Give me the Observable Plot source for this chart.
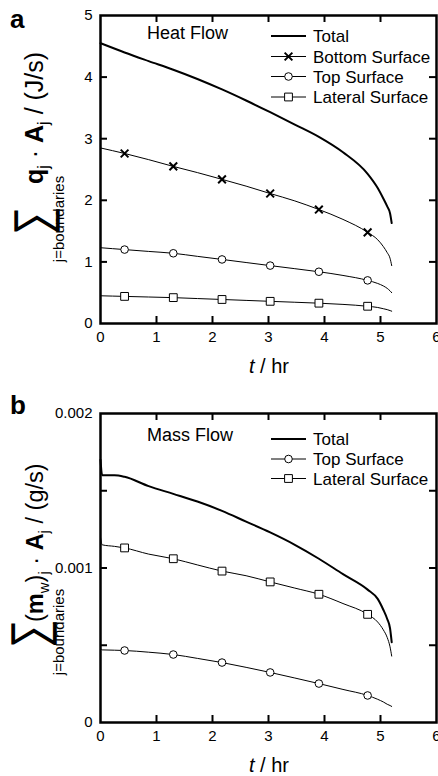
<!DOCTYPE html>
<html><head><meta charset="utf-8">
<script src="https://cdn.jsdelivr.net/npm/d3@7"></script>
<script src="https://cdn.jsdelivr.net/npm/@observablehq/plot@0.6"></script>
<style>
body{margin:0;background:#fff;}
#wrap{position:relative;width:438px;height:776px;overflow:hidden;background:#fff;}
#wrap svg{display:block;}
</style></head><body><div id="wrap"></div>
<script>
const FONT = '"Liberation Sans", Arial, Helvetica, sans-serif';

// ---------- Panel a : Heat Flow (J/s) ----------
const tA = [0, 0.43, 0.86, 1.30, 1.73, 2.17, 2.60, 3.03, 3.47, 3.90, 4.33, 4.77, 4.95, 5.05, 5.12, 5.17, 5.20];
const heatTotal   = [4.55, 4.40, 4.26, 4.12, 3.97, 3.80, 3.62, 3.43, 3.23, 3.03, 2.78, 2.43, 2.20, 2.03, 1.90, 1.79, 1.63];
const heatBottom  = [2.85, 2.76, 2.66, 2.55, 2.45, 2.34, 2.23, 2.11, 1.99, 1.85, 1.69, 1.48, 1.36, 1.25, 1.15, 1.06, 0.94];
const heatTop     = [1.23, 1.20, 1.17, 1.14, 1.09, 1.04, 0.99, 0.94, 0.89, 0.84, 0.78, 0.70, 0.65, 0.61, 0.57, 0.53, 0.50];
const heatLateral = [0.45, 0.44, 0.43, 0.42, 0.405, 0.39, 0.375, 0.36, 0.345, 0.33, 0.31, 0.28, 0.26, 0.24, 0.225, 0.21, 0.20];

// ---------- Panel b : Mass Flow (g/s) ----------
const tB = [0, 0.03, 0.25, 0.43, 0.86, 1.30, 1.73, 2.17, 2.60, 3.03, 3.47, 3.90, 4.33, 4.77, 4.95, 5.05, 5.12, 5.17, 5.20];
const massTotal   = [0.00170, 0.00160, 0.001600, 0.00159, 0.00153, 0.00148, 0.00143, 0.00137, 0.00130, 0.00123, 0.00115, 0.00106, 0.00096, 0.00086, 0.00080, 0.00073, 0.00067, 0.00061, 0.00052];
const massTop     = [0.00048, 0.00047, 0.000468, 0.000466, 0.000455, 0.00044, 0.000415, 0.000388, 0.000357, 0.000324, 0.000288, 0.000252, 0.000214, 0.000175, 0.000150, 0.000133, 0.000118, 0.000110, 0.000104];
const massLateral = [0.00120, 0.00115, 0.00114, 0.00113, 0.00109, 0.00106, 0.00102, 0.00098, 0.00095, 0.00091, 0.00087, 0.00083, 0.00077, 0.00070, 0.00065, 0.00060, 0.00055, 0.00049, 0.00043];

const markerTimes = [0.43, 1.30, 2.17, 3.03, 3.90, 4.77];
const xTicks = [0, 1, 2, 3, 4, 5, 6];
const heatYTicks = [0, 1, 2, 3, 4, 5];
const massYTicks = [0, 0.0005, 0.001, 0.0015, 0.002];
const massYLabels = [0, 0.001, 0.002];

const heatNames = ["Total", "Bottom Surface", "Top Surface", "Lateral Surface"];
const massNames = ["Total", "Top Surface", "Lateral Surface"];

const STY = {
  Total: {width: 2, symbol: null},
  "Bottom Surface": {width: 1, symbol: "times", r: 3.6, sw: 2},
  "Top Surface": {width: 1, symbol: "circle", r: 3.8, sw: 1},
  "Lateral Surface": {width: 1, symbol: "square", r: 4.4, sw: 1}
};

function makePanel(cfg) {
  const W = 438, H = 388, ML = 100, MR = 2;
  const plotW = W - ML - MR, plotH = H - cfg.mt - cfg.mb;
  const marks = [];
  cfg.series.forEach(s => {
    const st = STY[s.name];
    const d = cfg.t.map((t, i) => ({t, v: s.values[i]}));
    marks.push(Plot.line(d, {x: "t", y: "v", stroke: "black", strokeWidth: st.width, curve: "monotone-x"}));
    if (st.symbol) {
      const md = d.filter(p => markerTimes.includes(p.t));
      marks.push(Plot.dot(md, {x: "t", y: "v", symbol: st.symbol, r: st.r, stroke: "black",
        strokeWidth: st.sw, fill: st.symbol === "times" ? "none" : "white"}));
    }
  });
  const inner = xTicks.slice(1, -1);
  const innerY = cfg.yTicks.slice(1, -1);
  marks.push(
    Plot.tickX(inner, {x: d => d, insetTop: plotH - 7, stroke: "black", strokeWidth: 2}),
    Plot.tickX(inner, {x: d => d, insetBottom: plotH - 7, stroke: "black", strokeWidth: 2}),
    Plot.tickY(innerY, {y: d => d, insetRight: plotW - 7, stroke: "black", strokeWidth: 2}),
    Plot.tickY(innerY, {y: d => d, insetLeft: plotW - 7, stroke: "black", strokeWidth: 2}),
    Plot.frame({stroke: "black", strokeWidth: 2.5}),
    Plot.axisX(xTicks, {tickSize: 0, tickPadding: 8, fontSize: 15, label: null}),
    Plot.axisY(cfg.yLabels, {tickSize: 0, tickPadding: 8, fontSize: 15, label: null, tickFormat: d => String(d)})
  );
  const svg = Plot.plot({
    width: W, height: H, marginLeft: ML, marginRight: MR, marginTop: cfg.mt, marginBottom: cfg.mb,
    x: {domain: [0, 6]}, y: {domain: cfg.yDomain},
    style: {fontFamily: FONT, color: "black", background: "white", overflow: "hidden"},
    marks
  });
  const sel = d3.select(svg);
  const txt = (parent) => parent.append("text").attr("font-family", FONT).attr("fill", "black").attr("text-anchor", "start");
  // panel letter
  txt(sel).attr("x", 10).attr("y", cfg.letterY).attr("font-size", 26).attr("font-weight", "bold").text(cfg.letter);
  // title inside plot
  txt(sel).attr("x", 147).attr("y", cfg.titleY).attr("font-size", 18).text(cfg.title);
  // legend
  const lg = sel.append("g");
  cfg.series.forEach((s, i) => {
    const st = STY[s.name];
    const by = cfg.legY[i];
    const ly = by - 6;
    lg.append("line").attr("x1", 271).attr("x2", 306).attr("y1", ly).attr("y2", ly)
      .attr("stroke", "black").attr("stroke-width", st.width);
    if (st.symbol) {
      const sym = {times: d3.symbolTimes, circle: d3.symbolCircle, square: d3.symbolSquare}[st.symbol];
      lg.append("path").attr("transform", `translate(288.5,${ly})`)
        .attr("d", d3.symbol(sym, Math.PI * st.r * st.r)())
        .attr("fill", st.symbol === "times" ? "none" : "white").attr("stroke", "black").attr("stroke-width", st.sw);
    }
    txt(lg).attr("x", 313).attr("y", by).attr("font-size", 17).text(s.name);
  });
  // x-axis title
  const xt = txt(sel).attr("x", 269).attr("y", H - cfg.mb + 50).attr("text-anchor", "middle").attr("font-size", 20);
  xt.append("tspan").attr("font-style", "italic").text("t");
  xt.append("tspan").text(" / hr");
  // y-axis title (rotated)
  const g = sel.append("g").attr("transform", `translate(0,${cfg.ylabY0}) rotate(-90)`);
  const sg = g.append("g").attr("transform", `translate(${cfg.sumX},${cfg.sumBase}) scale(1.1,1.4)`);
  txt(sg).attr("x", 0).attr("y", 0).attr("text-anchor", "middle").attr("font-size", 36).text("∑");
  txt(g).attr("x", cfg.sumX + 2).attr("y", 64).attr("text-anchor", "middle").attr("font-size", 15).text("j=boundaries");
  const mt = txt(g).attr("x", cfg.mainX).attr("y", 43).attr("font-size", cfg.fs);
  const sub = Math.round(cfg.fs * 0.62);
  cfg.ylabParts.forEach(p => {
    const ts = mt.append("tspan").text(p[0]);
    if (p[1] === "b") ts.attr("font-weight", "bold");
    if (p[1] === "s") ts.attr("font-size", sub).attr("dy", 6);
    if (p[1] === "r") ts.attr("dy", -6);
  });
  return svg;
}

const wrap = document.getElementById("wrap");
wrap.appendChild(makePanel({
  t: tA, mt: 15, mb: 65, yDomain: [0, 5], yTicks: heatYTicks, yLabels: heatYTicks,
  series: [
    {name: heatNames[0], values: heatTotal},
    {name: heatNames[1], values: heatBottom},
    {name: heatNames[2], values: heatTop},
    {name: heatNames[3], values: heatLateral}
  ],
  letter: "a", letterY: 28, title: "Heat Flow", titleY: 39, legY: [42, 62.5, 82.5, 103],
  ylabY0: 263, sumX: 42, sumBase: 49, mainX: 79, fs: 25,
  ylabParts: [["q", "b"], ["j", "s"], [" · ", "r"], ["A", "b"], ["j", "s"], [" / (J/s)", "r"]]
}));
wrap.appendChild(makePanel({
  t: tB, mt: 25, mb: 54, yDomain: [0, 0.002], yTicks: massYTicks, yLabels: massYLabels,
  series: [
    {name: massNames[0], values: massTotal},
    {name: massNames[1], values: massTop},
    {name: massNames[2], values: massLateral}
  ],
  letter: "b", letterY: 26, title: "Mass Flow", titleY: 53, legY: [57, 77, 96.5],
  ylabY0: 292, sumX: 46, sumBase: 46, mainX: 58, fs: 23.5,
  ylabParts: [["(", ""], ["m", "b"], ["w", "s"], [")", "r"], ["j", "s"], [" · ", "r"], ["A", "b"], ["j", "s"], [" / (g/s)", "r"]]
}));
</script>
</body></html>
